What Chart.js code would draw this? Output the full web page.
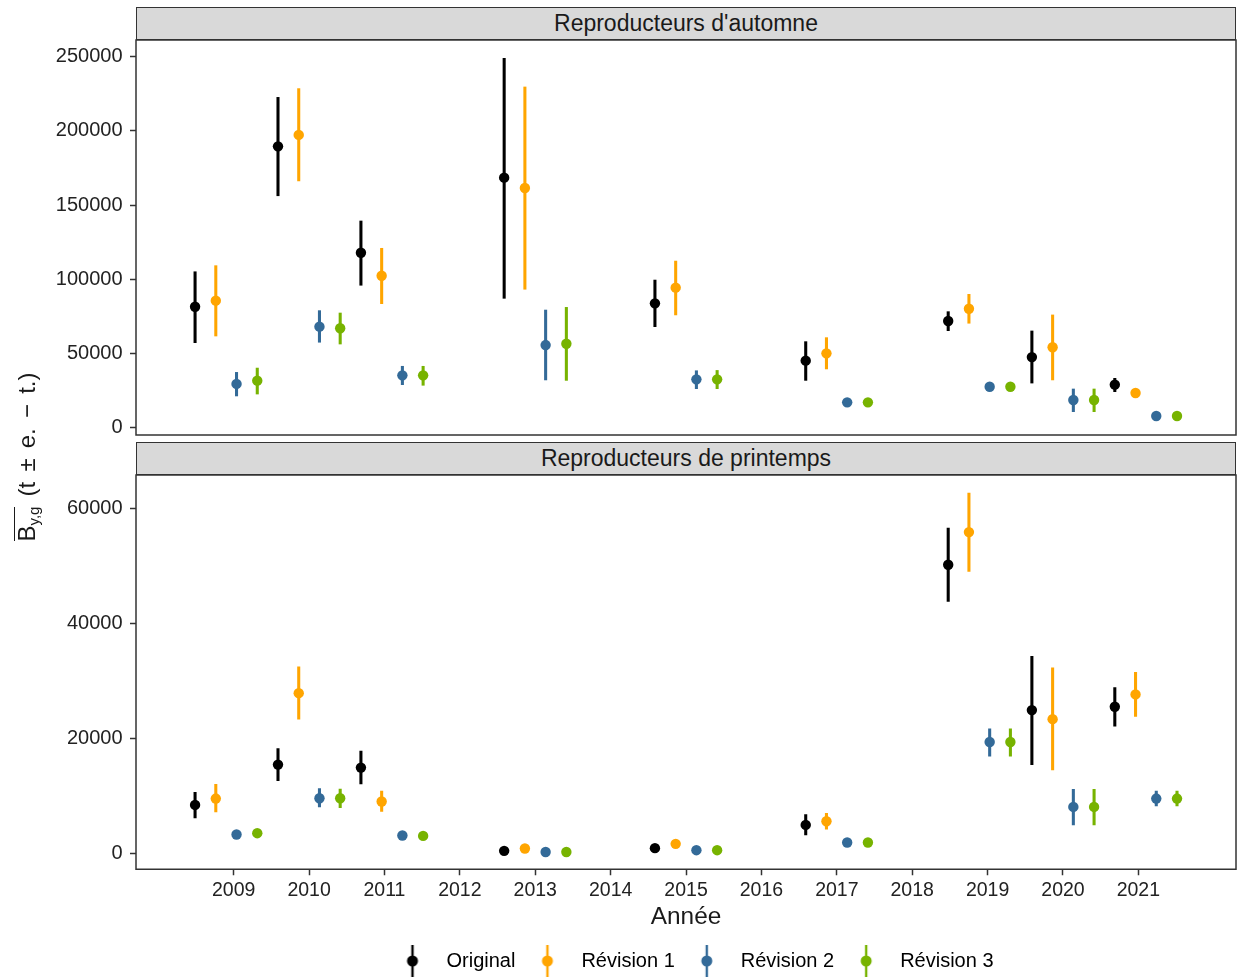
<!DOCTYPE html>
<html lang="fr">
<head>
<meta charset="utf-8">
<title>Reproducteurs d'automne et de printemps</title>
<script src="https://cdn.jsdelivr.net/npm/chart.js@4.4.1/dist/chart.umd.min.js"></script>
<style>
  html, body { margin: 0; padding: 0; background: #fff; overflow: hidden; }
  #page { position: relative; width: 1238px; height: 978px; overflow: hidden;
          font-family: "Liberation Sans", Arial, sans-serif; color: #1a1a1a; }
  .bandeau { position: absolute; left: 136px; width: 1100px; height: 33px; box-sizing: border-box;
             border: 1.5px solid #333; background: #d9d9d9; font-size: 23px; line-height: 30px; text-align: center; }
  canvas { position: absolute; left: 0; }
  #titreY { position: absolute; left: -123px; top: 443px; width: 300px; height: 28px; text-align: center;
            font-size: 24px; line-height: 28px; word-spacing: 3.5px; transform: rotate(-90deg); white-space: nowrap; }
  .barre { display: inline-block; border-top: 1.5px solid #1a1a1a; line-height: 23px; word-spacing: 0; }
  .barre sub { font-size: 15px; vertical-align: -4px; line-height: 0; }
</style>
</head>
<body>
<div id="page">
  <div class="bandeau" style="top: 7px;">Reproducteurs d'automne</div>
  <canvas id="automne" width="1238" height="397" style="top: 39px;"></canvas>
  <div class="bandeau" style="top: 442px;">Reproducteurs de printemps</div>
  <canvas id="printemps" width="1238" height="507" style="top: 474px;"></canvas>
  <div id="titreY"><span class="barre">B<sub>y,g</sub></span> (t ± e. − t.)</div>
</div>
<script>
// campagnes 2009, 2010, 2011, 2013, 2015, 2017, 2019, 2020, 2021 : centre de chaque groupe esquivé
const centresGroupes = [2008.9, 2010.0, 2011.1, 2013.0, 2015.0, 2017.0, 2018.89, 2020.0, 2021.1];
const series = ['Original', 'Révision 1', 'Révision 2', 'Révision 3'];
const decalages = [-0.4125, -0.1375, 0.1375, 0.4125];
const couleurs = ['#000000', '#FFA500', '#336A98', '#77B300'];
const anneesTicks = [2009, 2010, 2011, 2012, 2013, 2014, 2015, 2016, 2017, 2018, 2019, 2020, 2021];
const ticksAutomne = [0, 50000, 100000, 150000, 200000, 250000];
const ticksPrintemps = [0, 20000, 40000, 60000];

// Reproducteurs d'automne : une ligne par série
const automneEst = [
    [81500, 189600, 117900, 168500, 83800, 45200, 71900, 47600, 29000],
    [85600, 197300, 102400, 161500, 94400, 50100, 80200, 54200, 23400],
    [29500, 68100, 35300, 55700, 32600, 17100, 27600, 18700, 7900],
    [31700, 67000, 35300, 56600, 32600, 17100, 27600, 18700, 7900],
];
const automneBas = [
    [57300, 156300, 96000, 87200, 68100, 31900, 65400, 30100, 24300],
    [61800, 166300, 83600, 93300, 76000, 39600, 70400, 32200, 22200],
    [21400, 57600, 29000, 32200, 26300, 16000, 26400, 10800, 6800],
    [22700, 56400, 28600, 31900, 26300, 16000, 26400, 10800, 6800],
];
const automneHaut = [
    [105100, 222600, 139300, 248900, 99500, 58000, 78200, 65200, 33300],
    [109200, 228500, 120900, 229600, 112300, 60700, 89900, 76000, 24600],
    [37300, 78900, 41400, 79300, 38400, 18200, 28800, 26100, 9000],
    [40200, 77300, 41400, 81100, 38600, 18200, 28800, 26100, 9000],
];

// Reproducteurs de printemps
const printempsEst = [
    [8450, 15470, 14950, 450, 920, 4970, 50280, 24960, 25550],
    [9560, 27910, 9040, 870, 1670, 5610, 55960, 23390, 27690],
    [3300, 9610, 3130, 250, 570, 1910, 19400, 8100, 9560],
    [3530, 9610, 3060, 250, 570, 1910, 19400, 8100, 9560],
];
const printempsBas = [
    [6190, 12690, 12100, 300, 750, 3230, 43900, 15470, 22180],
    [7230, 23390, 7300, 700, 1450, 4220, 49120, 14530, 23860],
    [3000, 8100, 2900, 150, 450, 1750, 16960, 4970, 8270],
    [3250, 7980, 2850, 150, 450, 1750, 16960, 4970, 8270],
];
const printempsHaut = [
    [10650, 18250, 17830, 600, 1100, 6780, 56660, 34340, 28900],
    [12040, 32500, 10880, 1050, 1900, 7000, 62740, 32330, 31560],
    [3600, 11300, 3350, 350, 700, 2100, 21720, 11180, 10880],
    [3800, 11200, 3300, 350, 700, 2100, 21720, 11180, 10880],
];

const police = '"Liberation Sans", Arial, sans-serif';

function construireJeux(est, bas, haut) {
    const jeux = [];
    series.forEach((nom, s) => {
        const xs = centresGroupes.map(c => c + decalages[s]);
        // intervalle en barre flottante fine
        jeux.push({
            type: 'bar',
            label: nom + ' (intervalle)',
            data: xs.map((x, i) => ({ x: x, y: [bas[s][i], haut[s][i]] })),
            backgroundColor: couleurs[s],
            barThickness: 2.4,
            grouped: false,
            order: 1,
        });
        jeux.push({
            type: 'scatter',
            label: nom,
            data: xs.map((x, i) => ({ x: x, y: est[s][i] })),
            backgroundColor: couleurs[s],
            borderColor: couleurs[s],
            pointRadius: 5.2,
            pointBorderWidth: 0,
            order: 0,
        });
    });
    return jeux;
}

function glyphe(couleur) {
    const c = document.createElement('canvas');
    c.width = 16;
    c.height = 34;
    const g = c.getContext('2d');
    g.fillStyle = couleur;
    g.fillRect(6.8, 1, 2.4, 32);
    g.beginPath();
    g.arc(8, 17, 5.5, 0, 2 * Math.PI);
    g.fill();
    return c;
}
const glyphes = couleurs.map(glyphe);

const cadre = {
    id: 'cadre',
    afterLayout(chart) {
        // légende un peu décalée vers la droite comme sur l'original
        if (chart.legend && chart.legend.options.display) {
            chart.legend.left += 5;
            chart.legend.right += 5;
        }
    },
    afterDatasetsDraw(chart) {
        const { ctx, chartArea: a } = chart;
        ctx.save();
        ctx.strokeStyle = '#333';
        ctx.lineWidth = 1.5;
        ctx.strokeRect(a.left, a.top, a.width, a.height);
        ctx.restore();
    },
};

const graduations = { drawOnChartArea: false, drawTicks: true, offset: false, tickLength: 6, tickColor: '#333', tickWidth: 1.5 };

function options(min, max, ticksY, avecAxeX) {
    const axeX = {
        type: 'linear',
        min: 2007.704,
        max: 2022.295,
        offset: false,
        display: avecAxeX,
        afterBuildTicks: (ax) => { ax.ticks = anneesTicks.map(v => ({ value: v })); },
        grid: graduations,
        border: { display: false },
        ticks: {
            autoSkip: false, maxRotation: 0, minRotation: 0, padding: 4,
            color: '#222', font: { family: police, size: 19.5 },
            callback: (v) => String(v),
        },
        title: {
            display: true, text: 'Année', color: '#1a1a1a',
            font: { family: police, size: 24.4 }, padding: { top: 0, bottom: 11 },
        },
    };
    if (avecAxeX) {
        axeX.afterFit = (ax) => {
            ax.height = 73.75;
            ax.paddingLeft = 0;
            ax.paddingRight = 0;
        };
    }

    return {
        responsive: false,
        animation: false,
        devicePixelRatio: 1,
        layout: { autoPadding: false, padding: { top: 1, right: 2, bottom: avecAxeX ? 0 : 1, left: 0 } },
        plugins: {
            tooltip: { enabled: false },
            legend: avecAxeX ? {
                display: true,
                position: 'bottom',
                fullSize: false,
                onClick: () => {},
                labels: {
                    usePointStyle: true,
                    pointStyleWidth: 48,
                    padding: 8,
                    color: '#1a1a1a',
                    font: { family: police, size: 20 },
                    generateLabels: () => series.map((nom, s) => ({
                        text: nom,
                        pointStyle: glyphes[s],
                        fillStyle: couleurs[s],
                        strokeStyle: couleurs[s],
                        lineWidth: 0,
                        hidden: false,
                        datasetIndex: 2 * s + 1,
                    })),
                },
            } : { display: false },
        },
        scales: {
            x: axeX,
            y: {
                type: 'linear',
                min: min,
                max: max,
                afterBuildTicks: (ax) => { ax.ticks = ticksY.map(v => ({ value: v })); },
                afterFit: (ax) => {
                    ax.width = 136;
                    ax.paddingTop = 0;
                    ax.paddingBottom = 0;
                },
                grid: graduations,
                border: { display: false },
                ticks: { padding: 7.5, color: '#222', font: { family: police, size: 20 }, callback: (v) => String(v) },
            },
        },
    };
}

new Chart(document.getElementById('automne'), {
    type: 'scatter',
    data: { datasets: construireJeux(automneEst, automneBas, automneHaut) },
    options: options(-4900, 261250, ticksAutomne, false),
    plugins: [cadre],
});

new Chart(document.getElementById('printemps'), {
    type: 'scatter',
    data: { datasets: construireJeux(printempsEst, printempsBas, printempsHaut) },
    options: options(-2750, 65900, ticksPrintemps, true),
    plugins: [cadre],
});
</script>
</body>
</html>
